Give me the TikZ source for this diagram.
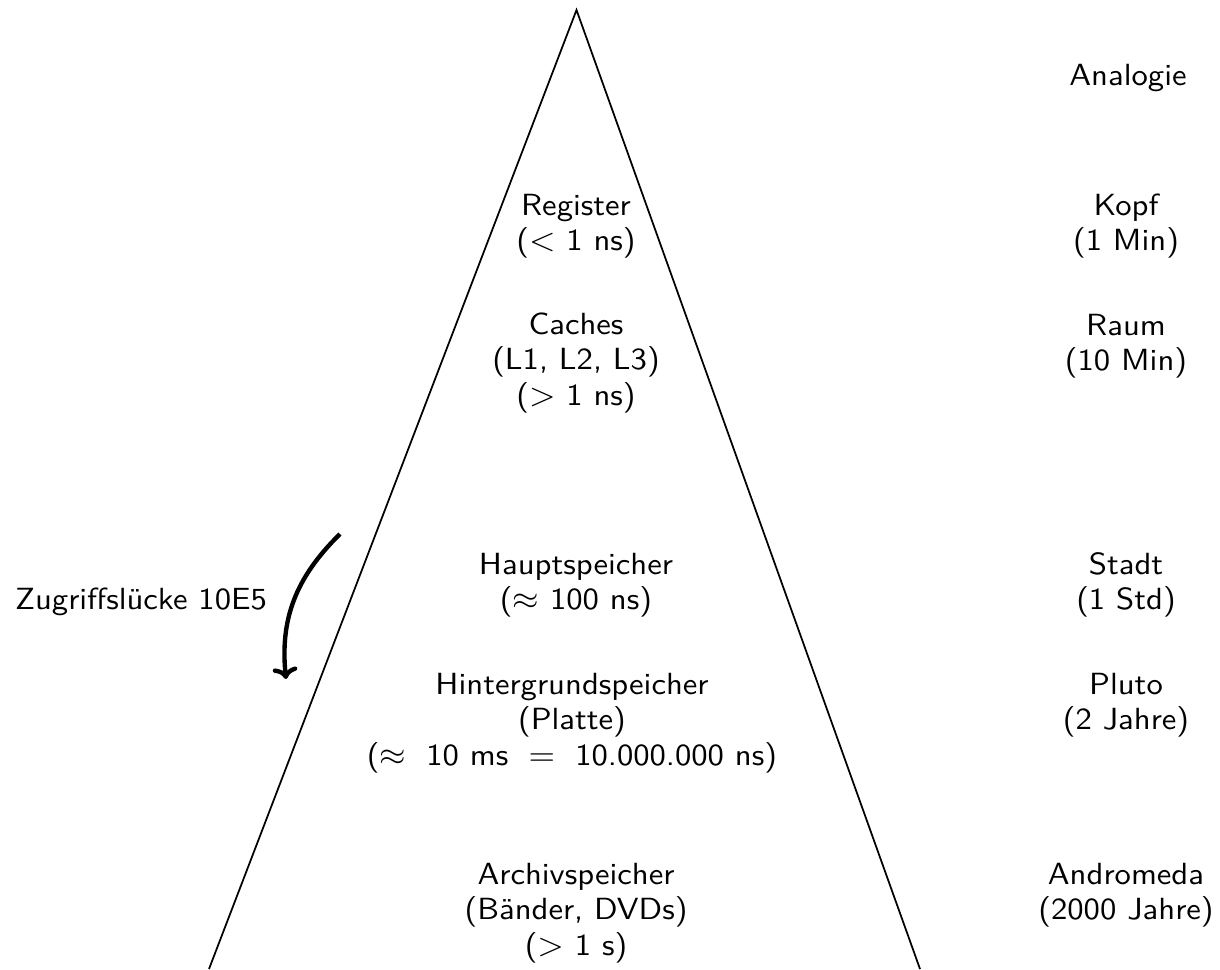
\documentclass[tikz,border=0pt]{standalone}
\usetikzlibrary{arrows.meta}
\begin{document}
\begin{tikzpicture}[x=0.343pt,y=-0.343pt,
  lbl/.style={align=center,inner sep=0pt,font=\sffamily\fontsize{10.5}{12.1}\selectfont,xscale=1.067,transform shape},
  edge/.style={line width=0.6pt},
  gap/.style={line width=1.5pt,-{To[length=4pt,width=8.5pt]}}]
\useasboundingbox (0,0) rectangle (1220,969);
\coordinate (apex) at (576.5,10);
\coordinate (bl) at (209,969);
\coordinate (br) at (920,969);
\draw[edge] (bl) -- (apex) -- (br);

\node[lbl] (ana) at (1128,78) {Analogie};
\node[lbl] (reg) at (576,226) {Register\\($<$ 1 ns)};
\node[lbl] (kopf) at (1126,226) {Kopf\\(1 Min)};
\node[lbl] (cache) at (576,363) {Caches\\(L1, L2, L3)\\($>$ 1 ns)};
\node[lbl] (raum) at (1126,346) {Raum\\(10 Min)};
\node[lbl] (haupt) at (576,585) {Hauptspeicher\\($\approx$ 100 ns)};
\node[lbl] (stadt) at (1126,585) {Stadt\\(1 Std)};
\node[lbl] (hint) at (572,723) {Hintergrundspeicher\\(Platte)\\($\approx$\hspace{3pt} 10 ms\hspace{3pt} $=$\hspace{3pt} 10.000.000 ns)};
\node[lbl] (pluto) at (1126,705) {Pluto\\(2 Jahre)};
\node[lbl] (arch) at (576,913) {Archivspeicher\\(B\"ander, DVDs)\\($>$ 1 s)};
\node[lbl] (andro) at (1126,895) {Andromeda\\(2000 Jahre)};
\node[lbl] (zug) at (141,602) {Zugriffsl\"ucke 10E5};

\coordinate (gs) at (340,534);
\coordinate (ge) at (286,679);
\draw[gap] (gs) .. controls (295,578) and (280,620) .. (ge);
\end{tikzpicture}
\end{document}
